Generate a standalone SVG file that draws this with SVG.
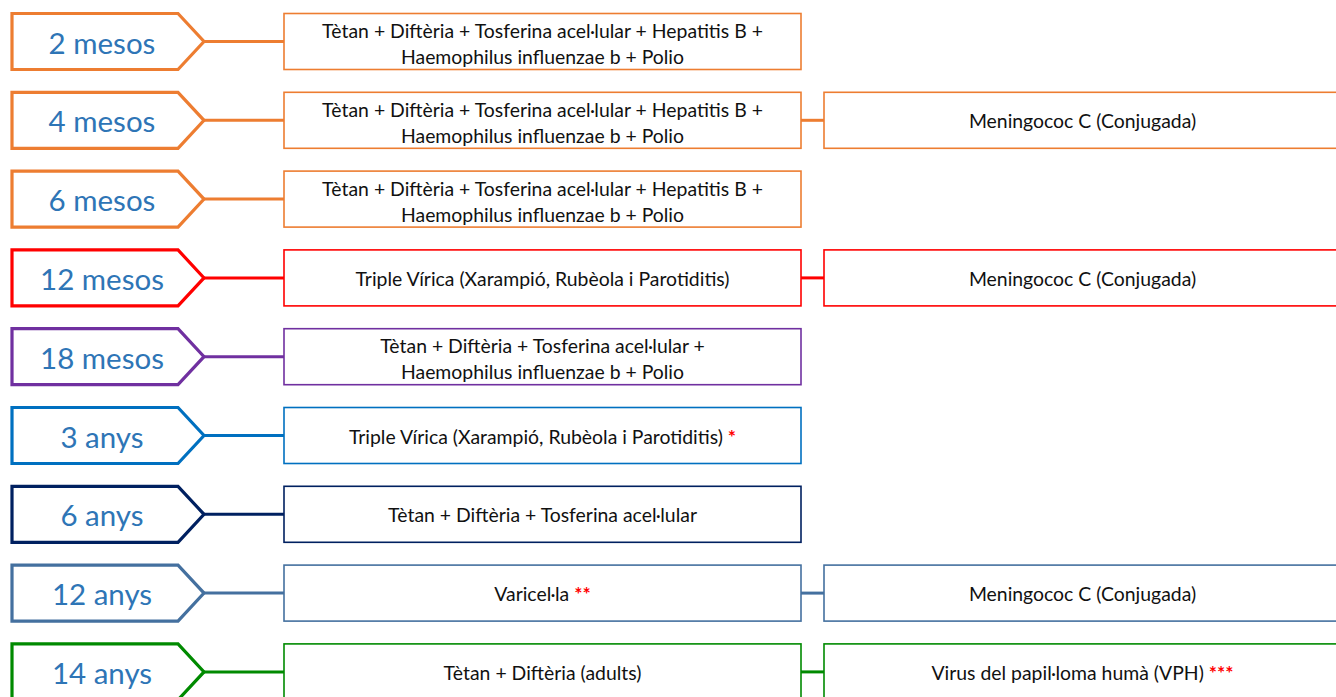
<svg xmlns="http://www.w3.org/2000/svg" width="1336" height="697" viewBox="0 0 1336 697">
<style>
.lbl{font-family:Lato,"Liberation Sans",sans-serif;font-size:29.5px;fill:#2E75B6;text-anchor:middle}
.txt{font-family:Lato,"Liberation Sans",sans-serif;font-size:19.4px;fill:#111;text-anchor:middle}
.ast{fill:#FF0000;font-weight:bold}
.pent{fill:#fff;stroke-width:3.2;stroke-linejoin:miter}
.box{fill:#fff;stroke-width:1.6}
.con line{stroke-width:3}
</style>
<rect width="1336" height="697" fill="#fff"/>
<g id="connectors" class="con">
<line x1="204" y1="41.5" x2="284" y2="41.5" stroke="#ED7D31"/>
<line x1="204" y1="120.3" x2="284" y2="120.3" stroke="#ED7D31"/>
<line x1="801" y1="120.3" x2="824" y2="120.3" stroke="#ED7D31"/>
<line x1="204" y1="199.1" x2="284" y2="199.1" stroke="#ED7D31"/>
<line x1="204" y1="277.9" x2="284" y2="277.9" stroke="#FF0000"/>
<line x1="801" y1="277.9" x2="824" y2="277.9" stroke="#FF0000"/>
<line x1="204" y1="356.7" x2="284" y2="356.7" stroke="#7030A0"/>
<line x1="204" y1="435.5" x2="284" y2="435.5" stroke="#0070C0"/>
<line x1="204" y1="514.3" x2="284" y2="514.3" stroke="#002060"/>
<line x1="204" y1="593.1" x2="284" y2="593.1" stroke="#44709F"/>
<line x1="801" y1="593.1" x2="824" y2="593.1" stroke="#44709F"/>
<line x1="204" y1="671.9" x2="284" y2="671.9" stroke="#008A00"/>
<line x1="801" y1="671.9" x2="824" y2="671.9" stroke="#008A00"/>
</g>
<g id="row-2mesos" transform="translate(0,13.5)">
<path class="pent" stroke="#ED7D31" d="M12,0H178L204,28L178,56H12Z"/>
<text class="lbl" x="102" y="40">2 mesos</text>
<rect class="box" stroke="#ED7D31" x="284" y="0" width="517" height="56"/>
<text class="txt" x="542.5" y="24.5">Tètan + Diftèria + Tosferina acel·lular + Hepatitis B +</text>
<text class="txt" x="542.5" y="50.5">Haemophilus influenzae b + Polio</text>
</g>
<g id="row-4mesos" transform="translate(0,92.3)">
<path class="pent" stroke="#ED7D31" d="M12,0H178L204,28L178,56H12Z"/>
<text class="lbl" x="102" y="40">4 mesos</text>
<rect class="box" stroke="#ED7D31" x="284" y="0" width="517" height="56"/>
<text class="txt" x="542.5" y="24.5">Tètan + Diftèria + Tosferina acel·lular + Hepatitis B +</text>
<text class="txt" x="542.5" y="50.5">Haemophilus influenzae b + Polio</text>
<rect class="box" stroke="#ED7D31" x="824" y="0" width="517" height="56"/>
<text class="txt" x="1082.5" y="36">Meningococ C (Conjugada)</text>
</g>
<g id="row-6mesos" transform="translate(0,171.1)">
<path class="pent" stroke="#ED7D31" d="M12,0H178L204,28L178,56H12Z"/>
<text class="lbl" x="102" y="40">6 mesos</text>
<rect class="box" stroke="#ED7D31" x="284" y="0" width="517" height="56"/>
<text class="txt" x="542.5" y="24.5">Tètan + Diftèria + Tosferina acel·lular + Hepatitis B +</text>
<text class="txt" x="542.5" y="50.5">Haemophilus influenzae b + Polio</text>
</g>
<g id="row-12mesos" transform="translate(0,249.9)">
<path class="pent" stroke="#FF0000" d="M12,0H178L204,28L178,56H12Z"/>
<text class="lbl" x="102" y="40">12 mesos</text>
<rect class="box" stroke="#FF0000" x="284" y="0" width="517" height="56"/>
<text class="txt" x="542.5" y="36">Triple Vírica (Xarampió, Rubèola i Parotiditis)</text>
<rect class="box" stroke="#FF0000" x="824" y="0" width="517" height="56"/>
<text class="txt" x="1082.5" y="36">Meningococ C (Conjugada)</text>
</g>
<g id="row-18mesos" transform="translate(0,328.7)">
<path class="pent" stroke="#7030A0" d="M12,0H178L204,28L178,56H12Z"/>
<text class="lbl" x="102" y="40">18 mesos</text>
<rect class="box" stroke="#7030A0" x="284" y="0" width="517" height="56"/>
<text class="txt" x="542.5" y="24.5">Tètan + Diftèria + Tosferina acel·lular +</text>
<text class="txt" x="542.5" y="50.5">Haemophilus influenzae b + Polio</text>
</g>
<g id="row-3anys" transform="translate(0,407.5)">
<path class="pent" stroke="#0070C0" d="M12,0H178L204,28L178,56H12Z"/>
<text class="lbl" x="102" y="40">3 anys</text>
<rect class="box" stroke="#0070C0" x="284" y="0" width="517" height="56"/>
<text class="txt" x="542.5" y="36">Triple Vírica (Xarampió, Rubèola i Parotiditis) <tspan class="ast">*</tspan></text>
</g>
<g id="row-6anys" transform="translate(0,486.3)">
<path class="pent" stroke="#002060" d="M12,0H178L204,28L178,56H12Z"/>
<text class="lbl" x="102" y="40">6 anys</text>
<rect class="box" stroke="#002060" x="284" y="0" width="517" height="56"/>
<text class="txt" x="542.5" y="36">Tètan + Diftèria + Tosferina acel·lular</text>
</g>
<g id="row-12anys" transform="translate(0,565.1)">
<path class="pent" stroke="#44709F" d="M12,0H178L204,28L178,56H12Z"/>
<text class="lbl" x="102" y="40">12 anys</text>
<rect class="box" stroke="#44709F" x="284" y="0" width="517" height="56"/>
<text class="txt" x="542.5" y="36">Varicel·la <tspan class="ast">**</tspan></text>
<rect class="box" stroke="#44709F" x="824" y="0" width="517" height="56"/>
<text class="txt" x="1082.5" y="36">Meningococ C (Conjugada)</text>
</g>
<g id="row-14anys" transform="translate(0,643.9)">
<path class="pent" stroke="#008A00" d="M12,0H178L204,28L178,56H12Z"/>
<text class="lbl" x="102" y="40">14 anys</text>
<rect class="box" stroke="#008A00" x="284" y="0" width="517" height="56"/>
<text class="txt" x="542.5" y="36">Tètan + Diftèria (adults)</text>
<rect class="box" stroke="#008A00" x="824" y="0" width="517" height="56"/>
<text class="txt" x="1082.5" y="36">Virus del papil·loma humà (VPH) <tspan class="ast">***</tspan></text>
</g>
</svg>
